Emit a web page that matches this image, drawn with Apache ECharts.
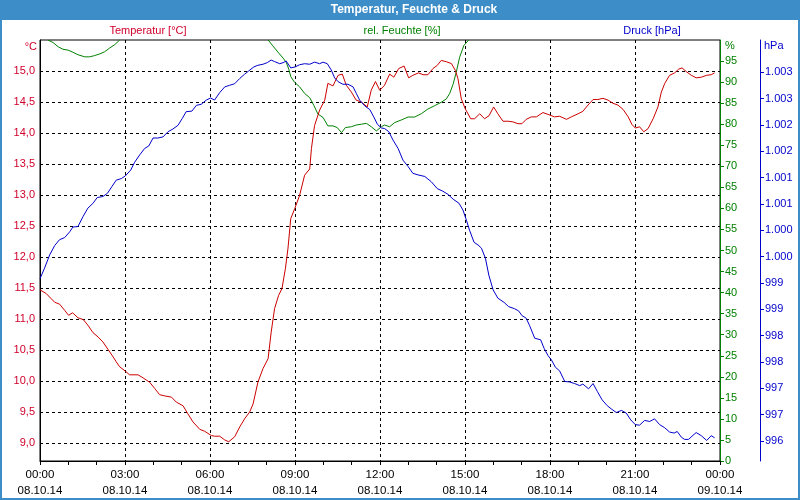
<!DOCTYPE html>
<html><head><meta charset="utf-8">
<script src="https://cdn.jsdelivr.net/npm/echarts@6/dist/echarts.min.js"></script>
<style>html,body{margin:0;padding:0;background:#fff}#c{width:800px;height:500px}</style>
</head><body><div id="c"></div>
<script>
const timeLabels = ["00:00","03:00","06:00","09:00","12:00","15:00","18:00","21:00","00:00"];
const dateLabels = ["08.10.14","08.10.14","08.10.14","08.10.14","08.10.14","08.10.14","08.10.14","08.10.14","09.10.14"];
const tempTicks = [9,9.5,10,10.5,11,11.5,12,12.5,13,13.5,14,14.5,15];
const humTicks = [0,5,10,15,20,25,30,35,40,45,50,55,60,65,70,75,80,85,90,95];
const pressTicks = [996,996.5,997,997.5,998,998.5,999,999.5,1000,1000.5,1001,1001.5,1002,1002.5,1003];

const tempHours = [0,0.22,0.52,0.69,0.87,1.01,1.15,1.34,1.53,1.69,1.87,2.05,2.22,2.4,2.58,2.69,2.81,3.01,3.16,3.46,3.64,3.87,4.05,4.22,4.4,4.64,4.81,5.05,5.22,5.4,5.64,5.81,6.05,6.16,6.34,6.52,6.66,6.87,7.05,7.22,7.4,7.52,7.69,7.87,8.05,8.16,8.28,8.42,8.54,8.66,8.75,8.85,8.99,9.16,9.34,9.52,9.58,9.69,9.87,10.05,10.16,10.34,10.52,10.67,10.81,10.99,11.16,11.34,11.55,11.69,11.84,11.99,12.05,12.16,12.34,12.49,12.66,12.85,13.01,13.16,13.36,13.52,13.69,13.87,14.02,14.16,14.34,14.52,14.66,14.75,14.87,15.01,15.2,15.34,15.52,15.69,15.85,16.01,16.16,16.34,16.52,16.69,16.87,17.01,17.16,17.34,17.52,17.75,17.93,18.16,18.34,18.58,18.75,18.99,19.16,19.34,19.52,19.69,19.87,20.05,20.22,20.4,20.58,20.76,20.89,21.01,21.16,21.31,21.46,21.64,21.81,21.93,22.05,22.22,22.4,22.54,22.66,22.81,22.99,23.16,23.34,23.52,23.69,23.81];
const tempValues = [11.47,11.41,11.27,11.24,11.14,11.06,11.10,11.02,10.99,10.90,10.78,10.71,10.63,10.51,10.39,10.31,10.23,10.16,10.10,10.10,10.05,9.98,9.88,9.78,9.76,9.74,9.66,9.60,9.47,9.34,9.22,9.19,9.12,9.11,9.11,9.05,9.02,9.10,9.26,9.39,9.50,9.63,9.98,10.20,10.36,10.79,11.17,11.38,11.49,11.81,12.13,12.62,12.78,12.99,13.32,13.42,13.75,14.12,14.37,14.53,14.80,14.76,14.93,14.95,14.77,14.66,14.53,14.50,14.42,14.69,14.83,14.69,14.67,14.77,14.95,14.90,15.04,15.08,14.89,14.93,14.97,14.94,14.94,15.04,15.09,15.17,15.15,15.12,15.01,14.88,14.55,14.39,14.23,14.23,14.31,14.23,14.28,14.42,14.31,14.19,14.19,14.18,14.15,14.15,14.22,14.26,14.26,14.33,14.30,14.26,14.27,14.22,14.26,14.31,14.35,14.45,14.54,14.54,14.56,14.53,14.48,14.45,14.38,14.26,14.14,14.08,14.10,14.02,14.07,14.23,14.42,14.66,14.80,14.93,14.97,15.03,15.05,14.99,14.93,14.89,14.90,14.93,14.94,14.97];

const humHours = [0.28,0.46,0.64,0.81,0.99,1.16,1.34,1.58,1.75,1.93,2.11,2.28,2.46,2.64,2.81,5.0,8.05,8.22,8.4,8.58,8.69,8.78,8.85,8.99,9.16,9.34,9.52,9.67,9.81,9.99,10.16,10.34,10.49,10.64,10.78,10.99,11.16,11.34,11.52,11.69,11.87,12.05,12.16,12.34,12.52,12.75,12.99,13.22,13.46,13.69,13.93,14.16,14.34,14.46,14.58,14.69,14.81,14.96,15.13];
const humValues = [100,99.4,98.4,97.8,97.6,97.1,96.5,96.0,96.0,96.3,96.7,97.2,98.1,98.9,100,null,100,98.6,97.1,95.7,94.7,93.1,91.3,89.9,88.9,87.3,86.3,84.4,82.4,81.6,79.6,79.6,79.2,78.0,79.2,79.4,79.8,80.0,80.2,79.4,78.4,79.4,79.8,79.4,80.4,81.0,81.7,81.7,82.5,83.6,84.4,85.2,86.0,87.3,89.5,92.3,95.9,98.7,100];

const pressHours = [0,0.16,0.34,0.52,0.69,0.87,1.05,1.16,1.34,1.52,1.69,1.87,2.02,2.22,2.38,2.54,2.69,2.87,3.01,3.2,3.34,3.52,3.69,3.84,3.99,4.16,4.34,4.52,4.69,4.87,5.02,5.16,5.36,5.52,5.69,5.87,6.02,6.16,6.34,6.52,6.69,6.87,7.05,7.22,7.36,7.55,7.69,7.87,8.02,8.16,8.28,8.46,8.58,8.69,8.85,9.01,9.16,9.34,9.52,9.69,9.87,9.99,10.14,10.28,10.4,10.52,10.69,10.87,11.05,11.16,11.28,11.46,11.64,11.78,11.91,12.05,12.16,12.31,12.46,12.64,12.81,12.99,13.16,13.34,13.58,13.81,14.02,14.22,14.4,14.58,14.79,14.93,15.05,15.16,15.32,15.46,15.58,15.72,15.84,15.99,16.16,16.38,16.54,16.75,16.89,17.01,17.16,17.28,17.46,17.67,17.79,17.93,18.05,18.19,18.34,18.52,18.69,18.87,19.05,19.16,19.36,19.52,19.67,19.84,20.02,20.16,20.34,20.52,20.69,20.85,21.01,21.16,21.34,21.52,21.69,21.87,22.05,22.22,22.38,22.49,22.64,22.75,22.89,23.01,23.16,23.34,23.53,23.69,23.81];
const pressValues = [999.08,999.28,999.53,999.71,999.82,999.86,999.97,1000.06,1000.07,1000.26,1000.42,1000.51,1000.62,1000.64,1000.70,1000.83,1000.95,1000.98,1001.03,1001.14,1001.29,1001.43,1001.55,1001.60,1001.75,1001.75,1001.77,1001.87,1001.92,1001.99,1002.12,1002.25,1002.26,1002.37,1002.39,1002.47,1002.51,1002.47,1002.61,1002.72,1002.75,1002.78,1002.88,1002.96,1003.02,1003.10,1003.13,1003.15,1003.18,1003.23,1003.20,1003.16,1003.18,1003.21,1003.08,1003.10,1003.14,1003.16,1003.15,1003.19,1003.16,1003.19,1003.16,1003.04,1002.89,1002.82,1002.77,1002.77,1002.72,1002.60,1002.47,1002.36,1002.29,1002.15,1002.01,1001.94,1001.93,1001.87,1001.71,1001.55,1001.33,1001.21,1001.08,1001.05,1001.02,1000.92,1000.79,1000.74,1000.68,1000.59,1000.51,1000.38,1000.19,1000.00,999.77,999.72,999.66,999.47,999.15,998.87,998.71,998.63,998.55,998.51,998.47,998.38,998.33,998.19,997.95,997.92,997.76,997.62,997.54,997.40,997.33,997.13,997.12,997.09,997.05,997.08,996.99,997.09,996.94,996.78,996.67,996.61,996.54,996.58,996.53,996.40,996.31,996.30,996.39,996.37,996.42,996.31,996.25,996.17,996.15,996.18,996.07,996.03,996.03,996.09,996.16,996.10,996.01,996.10,996.06];

const FONT = "'Liberation Sans', Arial, sans-serif";
const RED = '#cc0000', RED_T = '#d0002a', GREEN = '#008000', BLUE = '#0000cc', BAR = '#3d8ec8';
const pair = (xs, ys) => xs.map((x, i) => [x, ys[i]]);

const chart = echarts.init(document.getElementById('c'), null, {renderer: 'canvas'});
const dash = {show: true, lineStyle: {color: '#000', type: [3, 3], width: 1}};
chart.setOption({
  animation: false,
  backgroundColor: '#fff',
  textStyle: {fontFamily: FONT},
  grid: {left: 40, top: 40, right: 80, bottom: 39, show: true, borderColor: '#000', borderWidth: 1, backgroundColor: 'transparent'},
  xAxis: {
    type: 'value', min: 0, max: 24, interval: 3,
    axisLine: {lineStyle: {color: '#000', width: 1}},
    axisTick: {show: true, length: 4, inside: false, lineStyle: {color: '#000'}},
    minorTick: {show: true, splitNumber: 3, length: 4, lineStyle: {color: '#000'}},
    splitLine: dash,
    axisLabel: {color: '#000', fontFamily: FONT, fontSize: 11.5, lineHeight: 16, margin: 6,
      formatter: v => { const i = Math.round(v / 3); return timeLabels[i] + '\n' + dateLabels[i]; }}
  },
  yAxis: [
    {type: 'value', position: 'left', min: 8.71, max: 15.5,
     axisLine: {show: true, lineStyle: {color: '#000'}},
     axisTick: {show: false, customValues: tempTicks},
     splitLine: dash,
     axisLabel: {customValues: tempTicks, color: RED_T, fontFamily: FONT, fontSize: 11, margin: 5,
       formatter: v => v.toFixed(1).replace('.', ',')}},
    {type: 'value', position: 'right', min: 0, max: 100,
     axisLine: {show: true, lineStyle: {color: GREEN}},
     axisTick: {show: true, customValues: humTicks, length: 4, lineStyle: {color: GREEN}},
     splitLine: {show: false},
     axisLabel: {customValues: humTicks, color: GREEN, fontFamily: FONT, fontSize: 11, margin: 5}},
    {type: 'value', position: 'right', offset: 40, min: 995.62, max: 1003.61,
     axisLine: {show: true, lineStyle: {color: BLUE}},
     axisTick: {show: true, customValues: pressTicks, length: 4, lineStyle: {color: BLUE}},
     splitLine: {show: false},
     axisLabel: {customValues: pressTicks, color: BLUE, fontFamily: FONT, fontSize: 11, margin: 5,
       formatter: v => { const r = Math.round(v); return r >= 1000 ? Math.floor(r / 1000) + '.' + String(r % 1000).padStart(3, '0') : String(r); }}}
  ],
  series: [
    {name: 'Temperatur [°C]', type: 'line', yAxisIndex: 0, data: pair(tempHours, tempValues), showSymbol: false, symbol: 'none', lineStyle: {color: RED, width: 1}, z: 4},
    {name: 'rel. Feuchte [%]', type: 'line', yAxisIndex: 1, data: pair(humHours, humValues), showSymbol: false, symbol: 'none', connectNulls: false, lineStyle: {color: GREEN, width: 1}, z: 3},
    {name: 'Druck [hPa]', type: 'line', yAxisIndex: 2, data: pair(pressHours, pressValues), showSymbol: false, symbol: 'none', lineStyle: {color: BLUE, width: 1}, z: 5}
  ],
  graphic: [
    {type: 'rect', shape: {x: 0, y: 0, width: 800, height: 20}, style: {fill: BAR}, z: 10},
    {type: 'rect', shape: {x: 1, y: 1, width: 798, height: 498}, style: {fill: 'none', stroke: BAR, lineWidth: 2}, z: 10},
    {type: 'text', x: 414, y: 10, style: {text: 'Temperatur, Feuchte & Druck', fill: '#fff', font: 'bold 12px ' + FONT, textAlign: 'center', textVerticalAlign: 'middle'}, z: 11},
    {type: 'text', x: 148, y: 31, style: {text: 'Temperatur [°C]', fill: RED_T, font: '11px ' + FONT, textAlign: 'center', textVerticalAlign: 'middle'}, z: 11},
    {type: 'text', x: 402, y: 31, style: {text: 'rel. Feuchte [%]', fill: GREEN, font: '11px ' + FONT, textAlign: 'center', textVerticalAlign: 'middle'}, z: 11},
    {type: 'text', x: 652, y: 31, style: {text: 'Druck [hPa]', fill: BLUE, font: '11px ' + FONT, textAlign: 'center', textVerticalAlign: 'middle'}, z: 11},
    {type: 'text', x: 37, y: 47, style: {text: '°C', fill: RED_T, font: '11px ' + FONT, textAlign: 'right', textVerticalAlign: 'middle'}, z: 11},
    {type: 'text', x: 725, y: 46, style: {text: '%', fill: GREEN, font: '11px ' + FONT, textAlign: 'left', textVerticalAlign: 'middle'}, z: 11},
    {type: 'text', x: 764, y: 46, style: {text: 'hPa', fill: BLUE, font: '11px ' + FONT, textAlign: 'left', textVerticalAlign: 'middle'}, z: 11}
  ]
});
</script>
</body></html>
